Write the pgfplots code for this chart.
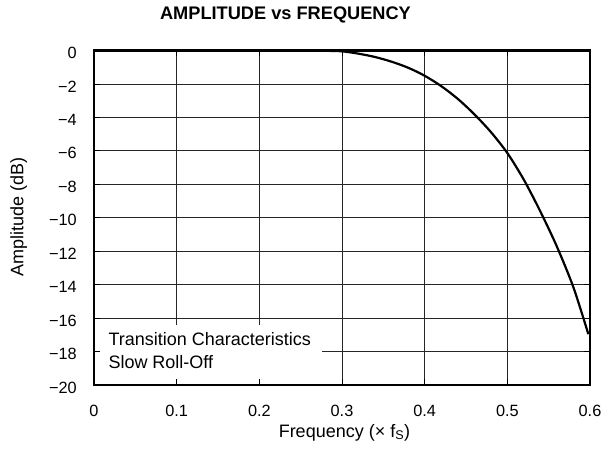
\documentclass[border=0pt]{standalone}
\usepackage{fontspec}
\setmainfont{Liberation Sans}
\usepackage{pgfplots}
\usepackage{pgfplotstable}
\pgfplotsset{compat=1.18}

% amplitude response
\pgfplotstableread{
f      a
0      0
0.2    0
0.25   -0.01
0.28   -0.02
0.30   -0.05
0.32   -0.19
0.34   -0.39
0.36   -0.67
0.38   -1.03
0.40   -1.51
0.42   -2.13
0.44   -2.89
0.46   -3.81
0.48   -4.87
0.50   -6.13
0.52   -7.73
0.54   -9.63
0.56   -11.73
0.58   -14.17
0.598  -16.96
}\curve

\pgfplotsset{
  base/.style={
    scale only axis,
    width=496pt, height=334.5pt,
    at={(94pt,69pt)}, anchor=south west,
    xmin=0, xmax=0.6, ymin=-20, ymax=0,
    xtick={0,0.1,0.2,0.3,0.4,0.5,0.6},
    ytick={-20,-18,-16,-14,-12,-10,-8,-6,-4,-2,0},
  }
}

\begin{document}
\begin{tikzpicture}
% grid only
\begin{axis}[base,
  grid=major,
  major grid style={black!85, line width=0.8pt},
  axis line style={draw=none},
  tick style={draw=none},
  xticklabels={}, yticklabels={},
]
\end{axis}

% frame, ticks, labels and curve
\begin{axis}[base,
  axis on top,
  axis line style={black, line width=2.2pt},
  tick align=inside,
  major tick length=6pt,
  tick style={black, line width=0.8pt},
  xticklabels={0,0.1,0.2,0.3,0.4,0.5,0.6},
  yticklabels={−20,−18,−16,−14,−12,−10,−8,−6,−4,−2,0},
  ticklabel style={font=\fontsize{16.3}{19}\selectfont},
  xticklabel style={anchor=north, inner sep=0pt, yshift=-19.5pt},
  yticklabel style={anchor=east, inner sep=0pt, xshift=-17pt, yshift=-2.5pt},
  title={AMPLITUDE vs FREQUENCY},
  title style={at={(axis description cs:0.3861,1.0733)}, anchor=base,
    font=\fontsize{18.2}{21}\selectfont\bfseries},
  xlabel={Frequency (× f\textsubscript{S})},
  xlabel style={at={(axis description cs:0.505,-0.1555)}, anchor=base,
    inner sep=0pt, font=\fontsize{18}{21}\selectfont},
  ylabel={Amplitude (dB)},
  ylabel style={at={(axis description cs:-0.1424,0.5022)}, anchor=base,
    inner sep=0pt, font=\fontsize{18}{21}\selectfont},
]
\fill[white] (axis cs:0,-20) rectangle (axis cs:0.2764,-16.39);
\node[anchor=base west, align=left, inner sep=0pt,
  font=\fontsize{18}{22.6}\selectfont]
  at (axis cs:0.0173,-19.0) {Transition Characteristics\\Slow Roll-Off};
\addplot[black, line width=2.2pt, smooth] table[x=f, y=a] {\curve};
\end{axis}

\pgfresetboundingbox
\useasboundingbox (0,0) rectangle (614pt,454pt);
\end{tikzpicture}
\end{document}
